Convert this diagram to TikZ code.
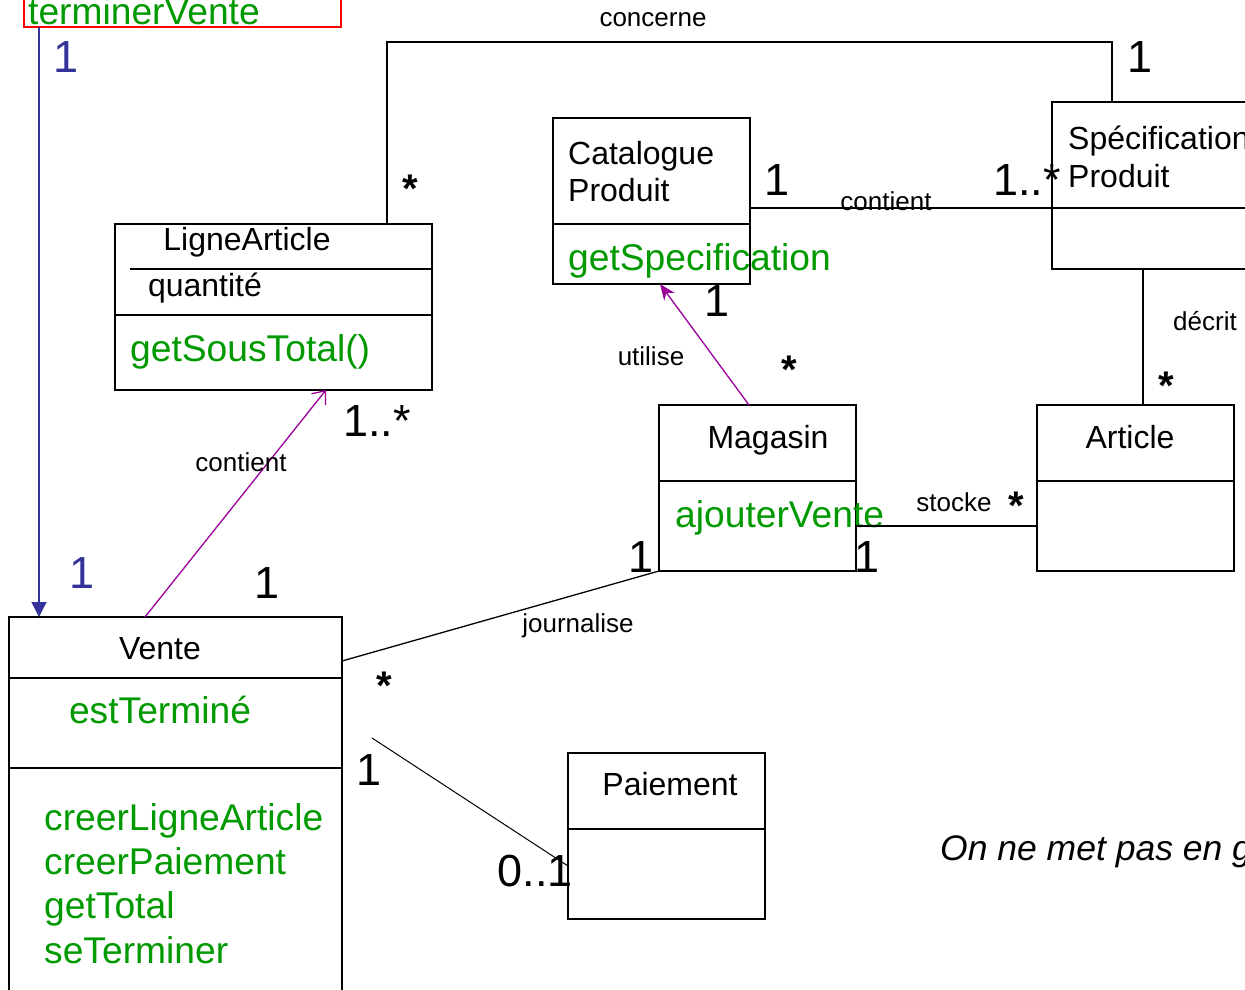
\documentclass[tikz,border=0pt]{standalone}
\usepackage{fontspec}
\setmainfont{Liberation Sans}
\usetikzlibrary{arrows.meta}
\definecolor{vert}{RGB}{0,153,0}
\definecolor{bleu}{RGB}{51,51,153}
\definecolor{violet}{RGB}{153,0,153}
\begin{document}
\begin{tikzpicture}[x=1pt, y=-1pt]
\tikzset{classe/.style={draw, line width=1.5pt, inner sep=0pt, outer sep=0pt},
  lien/.style={line width=1.3pt},
  nom/.style={inner sep=0pt, anchor=base, font=\fontsize{32}{38}\selectfont},
  op/.style={inner sep=0pt, anchor=base west, text=vert, font=\fontsize{37.2}{44}\selectfont},
  etiq/.style={inner sep=0pt, anchor=base, font=\fontsize{26}{31}\selectfont},
  mult/.style={inner sep=0pt, anchor=base, font=\fontsize{45}{54}\selectfont},
  etoile/.style={inner sep=0pt, anchor=base, font=\fontsize{40}{48}\selectfont\bfseries}}
\useasboundingbox (0,0) rectangle (1245,990);
\clip (0,0) rectangle (1245,990);
% classes
\node[classe, draw=red, minimum width=317pt, minimum height=57pt] (TV) at (182.5,-1.5) {};
\node[classe, minimum width=317pt, minimum height=166pt] (LA) at (273.5,307) {};
\node[classe, minimum width=197pt, minimum height=166pt] (CP) at (651.5,201) {};
\node[classe, minimum width=298pt, minimum height=167pt] (SP) at (1201,185.5) {};
\node[classe, minimum width=197pt, minimum height=166pt] (AR) at (1135.5,488) {};
\node[classe, minimum width=197pt, minimum height=166pt] (MG) at (757.5,488) {};
\node[classe, minimum width=333pt, minimum height=483pt] (VT) at (175.5,858.5) {};
\node[classe, minimum width=197pt, minimum height=166pt] (PA) at (666.5,836) {};
% compartiments
\draw[line width=1.5pt] (130,269) -- (LA.east |- 0,269);
\draw[line width=1.5pt] (LA.west |- 0,315) -- (LA.east |- 0,315);
\draw[line width=1.5pt] (CP.west |- 0,224) -- (CP.east |- 0,224);
\draw[line width=1.5pt] (SP.west |- 0,208) -- (SP.east |- 0,208);
\draw[line width=1.5pt] (AR.west |- 0,481) -- (AR.east |- 0,481);
\draw[line width=1.5pt] (MG.west |- 0,481) -- (MG.east |- 0,481);
\draw[line width=1.5pt] (VT.west |- 0,678) -- (VT.east |- 0,678);
\draw[line width=1.5pt] (VT.west |- 0,768) -- (VT.east |- 0,768);
\draw[line width=1.5pt] (PA.west |- 0,829) -- (PA.east |- 0,829);
% textes des classes
\node[op] (tTV) at (28,25) {terminerVente};
\node[nom] (tLA) at (247,250) {LigneArticle};
\node[nom] (tqte) at (205,296) {quantité};
\node[op] (tLAop) at (130,361) {getSousTotal()};
\node[nom, anchor=base west] (tCP1) at (568,164) {Catalogue};
\node[nom, anchor=base west] (tCP2) at (568,201) {Produit};
\node[op] (tCPop) at (568,270) {getSpecification};
\node[nom, anchor=base west] (tSP1) at (1068,149) {Spécification};
\node[nom, anchor=base west] (tSP2) at (1068,187) {Produit};
\node[nom] (tAR) at (1130,448) {Article};
\node[nom] (tMG) at (768,448) {Magasin};
\node[op] (tMGop) at (675,527) {ajouterVente};
\node[nom] (tVT) at (160,659) {Vente};
\node[op, anchor=base] (tVTat) at (160,723) {estTerminé};
\node[op] (tVTop1) at (44,830) {creerLigneArticle};
\node[op] (tVTop2) at (44,874) {creerPaiement};
\node[op] (tVTop3) at (44,918) {getTotal};
\node[op] (tVTop4) at (44,963) {seTerminer};
\node[nom] (tPA) at (670,795) {Paiement};
% associations
\coordinate (xb) at (39,0);
\coordinate (c1) at (387,42);
\coordinate (c2) at (1112,42);
\coordinate (xu1) at (749,0);
\coordinate (xu2) at (660,0);
\coordinate (xc1) at (145,0);
\coordinate (xc2) at (326,0);
\draw[lien, bleu, -{Triangle[length=15pt,width=15pt]}] (TV.south -| xb) -- (VT.north -| xb);
\draw[lien] (LA.north -| c1) -- (c1) -- (c2) -- (SP.north -| c2);
\draw[lien] (CP.east |- 0,208) -- (SP.west |- 0,208);
\draw[lien] (SP.south -| 1143,0) -- (AR.north -| 1143,0);
\draw[lien] (MG.east |- 0,526) -- (AR.west |- 0,526);
\draw[lien, violet, -{Stealth[length=16pt,width=13pt]}] (MG.north -| xu1) -- (CP.south -| xu2);
\draw[lien] (MG.south west) -- (VT.east |- 0,661);
\draw[lien, violet, -{Straight Barb[length=11pt,width=18pt]}] (VT.north -| xc1) -- (LA.south -| xc2);
\draw[line width=1pt] (372,738) -- (PA.west |- 0,866);
% etiquettes
\node[bleu, mult] (m1) at (66,73) {1};
\node[bleu, mult] (m2) at (82,588) {1};
\node[etiq] (lconc) at (653,27) {concerne};
\node[mult] (m3) at (1140,73) {1};
\node[etoile] (m4) at (410,202) {*};
\node[mult] (m5) at (777,195) {1};
\node[etiq] (lcont1) at (886,210) {contient};
\node[mult] (m6) at (1027,195) {1..*};
\node[etiq] (ldecr) at (1205,330) {décrit};
\node[etoile] (m7) at (1166,399) {*};
\node[etiq] (lstoc) at (954,511) {stocke};
\node[etoile] (m8) at (1016,519) {*};
\node[mult] (m9) at (867,572) {1};
\node[mult] (m10) at (641,572) {1};
\node[etiq] (lutil) at (651,365) {utilise};
\node[mult] (m11) at (717,316) {1};
\node[etoile] (m12) at (789,383) {*};
\node[etiq] (lcont2) at (241,471) {contient};
\node[mult] (m13) at (267,598) {1};
\node[mult] (m14) at (377,436) {1..*};
\node[etiq] (ljour) at (578,632) {journalise};
\node[etoile] (m15) at (384,699) {*};
\node[mult] (m16) at (369,785) {1};
\node[mult] (m17) at (535,886) {0..1};
% remarque
\node[inner sep=0pt, anchor=base west, font=\fontsize{35.5}{42}\selectfont\itshape] (note) at (940,860) {On ne met pas en g};
\end{tikzpicture}
\end{document}
